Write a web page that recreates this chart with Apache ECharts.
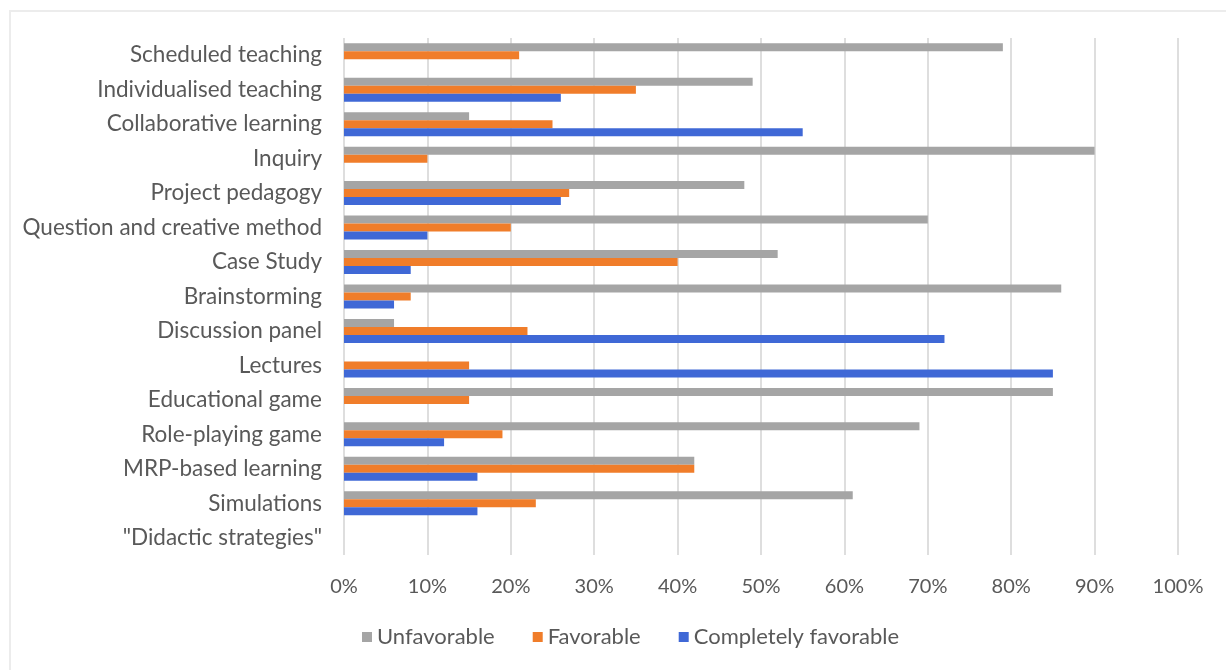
<!DOCTYPE html>
<html>
<head>
<meta charset="utf-8">
<script src="https://cdn.jsdelivr.net/npm/echarts@6/dist/echarts.min.js"></script>
<style>
  html, body { margin: 0; padding: 0; background: #fff; }
  .frame { position: absolute; left: 9px; top: 10px; width: 1300px; height: 700px; border-left: 2px solid #ececec; border-top: 2px solid #ececec; }
  .chart { position: absolute; left: 0; top: 0; width: 1226px; height: 670px; }
</style>
</head>
<body>
<div class="frame"></div>
<div class="chart"></div>
<script>
const chart = echarts.init(document.querySelector('.chart'))

// categories, top to bottom
const strategies = [
  'Scheduled teaching',
  'Individualised teaching',
  'Collaborative learning',
  'Inquiry',
  'Project pedagogy',
  'Question and creative method',
  'Case Study',
  'Brainstorming',
  'Discussion panel',
  'Lectures',
  'Educational game',
  'Role-playing game',
  'MRP-based learning',
  'Simulations',
  '"Didactic strategies"',
]

// values in %
const unfavorable = [79, 49, 15, 90, 48, 70, 52, 86, 6, 0, 85, 69, 42, 61, null]
const favorable = [21, 35, 25, 10, 27, 20, 40, 8, 22, 15, 15, 19, 42, 23, null]
const completelyFavorable = [0, 26, 55, 0, 26, 10, 8, 6, 72, 85, 0, 12, 16, 16, null]

const xTicks = [0, 10, 20, 30, 40, 50, 60, 70, 80, 90, 100]

const textColor = '#595959'
const fontFamily = 'Lato, "Open Sans", sans-serif'

const barSeries = (name, data, color) => ({
  name: name,
  type: 'bar',
  data: data,
  barWidth: 8,
  barGap: '0%',
  itemStyle: { color: color },
})

const option = {
  animation: false,
  textStyle: { fontFamily: fontFamily },
  grid: {
    left: 344,
    right: 48,
    top: 38,
    bottom: 115,
  },
  legend: {
    bottom: 17,
    left: 357,
    itemWidth: 10,
    itemHeight: 10,
    itemGap: 38,
    icon: 'rect',
    textStyle: { color: textColor, fontSize: 22, fontFamily: fontFamily },
    data: ['Unfavorable', 'Favorable', 'Completely favorable'],
  },
  xAxis: {
    type: 'value',
    min: xTicks[0],
    max: xTicks[xTicks.length - 1],
    interval: 10,
    axisLine: { show: false },
    axisTick: { show: false },
    axisLabel: {
      formatter: '{value}%',
      color: textColor,
      fontSize: 20,
      margin: 22,
    },
    splitLine: { lineStyle: { color: '#dedede', width: 2 } },
  },
  yAxis: {
    type: 'category',
    inverse: true,
    data: strategies,
    axisLine: { show: false },
    axisTick: { show: false },
    axisLabel: {
      color: textColor,
      fontSize: 22.5,
      margin: 22,
    },
  },
  series: [
    barSeries('Unfavorable', unfavorable, '#a5a5a5'),
    barSeries('Favorable', favorable, '#f07d2a'),
    barSeries('Completely favorable', completelyFavorable, '#3f68d6'),
  ],
}

chart.setOption(option)
</script>
</body>
</html>
